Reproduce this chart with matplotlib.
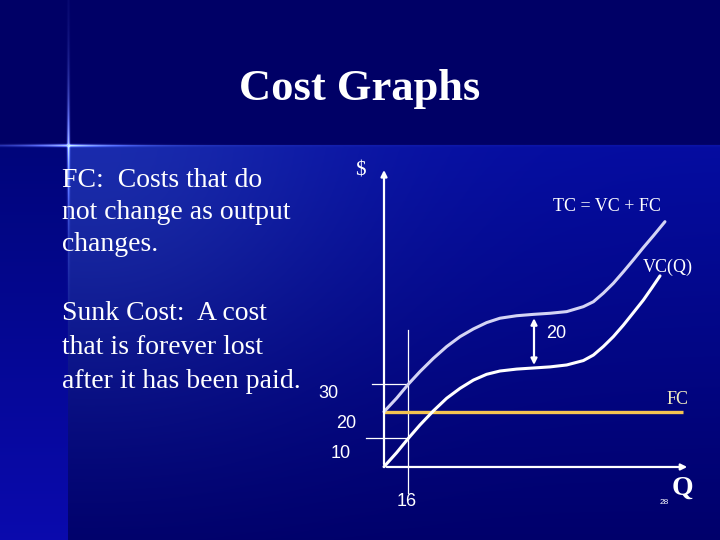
import numpy as np
import matplotlib
matplotlib.use('Agg')
from matplotlib import pyplot as plt

# curve readings (Q, $) taken off the slide
q_tc = [0, 8.4, 16.2, 24, 32.9, 41.8, 50.7, 59.6, 68.4, 77.3, 88.4, 99.6,
        110.7, 121.8, 132.9, 139.6, 146.2, 152.9, 159.6, 166.2, 172.9, 179.6, 187.3]
tc = [20.1, 25.0, 30.1, 34.7, 39.5, 43.8, 47.4, 50.2, 52.5, 54.1, 55.0, 55.5,
      55.9, 56.5, 58.3, 60.1, 63.2, 66.8, 71.0, 75.3, 79.8, 84.1, 89.2]

q_vc = [0, 8.4, 16.2, 24, 32.9, 41.8, 50.7, 59.6, 68.4, 77.3, 88.4, 99.6,
        110.7, 121.8, 132.9, 139.6, 146.2, 152.9, 159.6, 166.2, 172.9, 178.4, 184.0]
vc = [0.1, 5.2, 10.4, 15.3, 20.4, 25.0, 28.6, 31.6, 33.7, 34.9, 35.6, 36.0,
      36.4, 37.1, 38.7, 40.7, 43.8, 47.4, 51.6, 56.1, 60.7, 65.0, 69.5]

fc_q = [0, 199]
fc = [20, 20]

q_mark = 16
tc_mark = 30
vc_mark = 10.5
gap_q = 100
gap_lo, gap_hi = 37.1, 54.1

title = 'Cost Graphs'
left_lines = ['FC:  Costs that do', 'not change as output', 'changes.',
              'Sunk Cost:  A cost', 'that is forever lost', 'after it has been paid.']
left_base = [187, 219, 251, 320, 354, 388]

W, H = 720, 540
fig = plt.figure(figsize=(7.2, 5.4), dpi=100)

# slide background
yy, xx = np.mgrid[0:H, 0:W].astype(float)
img = np.zeros((H, W, 3))
img[:] = (0.0, 0.0, 0.40)
t = np.clip((yy - 145) / (H - 145), 0, 1)
main = (yy >= 145)
for c, (a, b) in enumerate([(0.02, 0.0), (0.05, 0.0), (0.63, 0.42)]):
    img[..., c] = np.where(main, a + (b - a) * t, img[..., c])
glow = np.exp(-(((xx - 90) / 260) ** 2 + ((yy - 170) / 230) ** 2)) * main
img[..., 0] += 0.08 * glow
img[..., 1] += 0.12 * glow
img[..., 2] += 0.05 * glow
left = (xx < 68) & main
for c, (a, b) in enumerate([(0.0, 0.04), (0.02, 0.04), (0.48, 0.68)]):
    img[..., c] = np.where(left, a + (b - a) * t, img[..., c])
# lens flare cross
hflare = np.exp(-((yy - 145) / 1.3) ** 2) * (np.exp(-np.abs(xx - 68) / 40) + 0.03)
vflare = np.exp(-((xx - 68) / 1.3) ** 2) * np.exp(-np.abs(yy - 145) / 45)
fl = np.clip(hflare + vflare, 0, 1)
for c, k in enumerate([0.7, 0.8, 1.0]):
    img[..., c] += k * fl
img = np.clip(img, 0, 1)

bg = fig.add_axes([0, 0, 1, 1])
bg.imshow(img, extent=(0, W, H, 0), aspect='auto', interpolation='bilinear')
bg.set_xlim(0, W)
bg.set_ylim(H, 0)
bg.axis('off')

bg.text(360, 100, title, color='white', fontsize=32, fontweight='bold',
        family='Liberation Serif', ha='center', va='baseline')
for s, y in zip(left_lines, left_base):
    bg.text(62, y, s, color='white', fontsize=20, family='Liberation Serif',
            ha='left', va='baseline')

# chart area
ax = fig.add_axes([300 / W, 0, 420 / W, 390 / H])
ax.set_xlim(-56, 224)
ax.set_ylim(-26.55, 115.27)
ax.axis('off')
ax.patch.set_alpha(0)

ax.annotate('', xy=(0, 109), xytext=(0, 0),
            arrowprops=dict(arrowstyle='-|>', color='white', lw=1.6, mutation_scale=9))
ax.annotate('', xy=(204, 0), xytext=(0, 0),
            arrowprops=dict(arrowstyle='-|>', color='white', lw=1.6, mutation_scale=9))

ax.plot([q_mark, q_mark], [-9.6, 49.8], color='white', lw=0.9)
ax.plot([-8.2, q_mark], [tc_mark, tc_mark], color='white', lw=0.9)
ax.plot([-12.2, q_mark], [vc_mark, vc_mark], color='white', lw=0.9)

ax.plot(fc_q, fc, color='#f5c451', lw=2.4, solid_capstyle='butt')
ax.plot(q_tc, tc, color='#d4d4f4', lw=2.2, solid_capstyle='round', solid_joinstyle='round')
ax.plot(q_vc, vc, color='white', lw=2.2, solid_capstyle='round', solid_joinstyle='round')

ax.annotate('', xy=(gap_q, gap_hi), xytext=(gap_q, gap_lo),
            arrowprops=dict(arrowstyle='<|-|>', color='white', lw=1.6, mutation_scale=9,
                            shrinkA=0, shrinkB=0))

sans = 'Liberation Sans'
serif = 'Liberation Serif'
ax.text(115, 48.6, '20', color='white', fontsize=13, family=sans, ha='center', va='center')
ax.text(-37, 26.8, '30', color='white', fontsize=13, family=sans, ha='center', va='center')
ax.text(-25, 15.9, '20', color='white', fontsize=13, family=sans, ha='center', va='center')
ax.text(-29, 5.0, '10', color='white', fontsize=13, family=sans, ha='center', va='center')
ax.text(15, -12.6, '16', color='white', fontsize=13, family=sans, ha='center', va='center')
ax.text(-16, 107.7, '$', color='white', fontsize=15, family=serif, ha='center', va='center')
ax.text(199, -7.8, 'Q', color='white', fontsize=20, fontweight='bold', family=serif,
        ha='center', va='center')
ax.text(187, -13, '28', color='white', fontsize=6, family=sans, ha='center', va='center')
ax.text(148.5, 94.7, 'TC = VC + FC', color='white', fontsize=13, family=serif,
        ha='center', va='center')
ax.text(189, 72.6, 'VC(Q)', color='white', fontsize=13, family=serif, ha='center', va='center')
ax.text(195.8, 24.6, 'FC', color='#f4eec0', fontsize=13, family=serif, ha='center', va='center')

fig.savefig('out.png', dpi=100)
